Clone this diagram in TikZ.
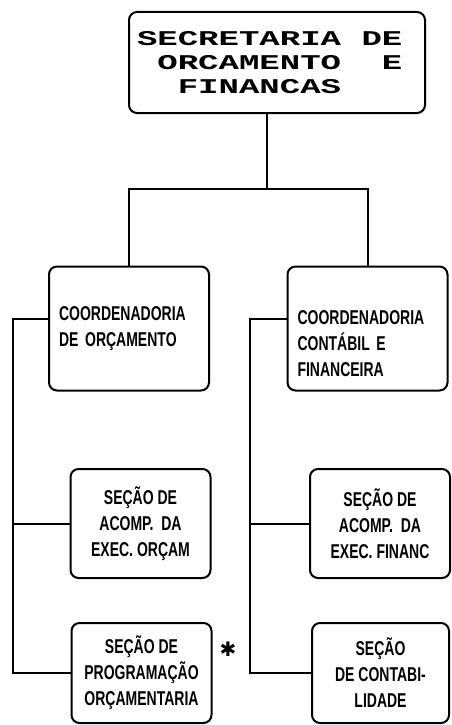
\documentclass[tikz,border=0pt]{standalone}
\usepackage{fontspec}
\newfontfamily\boxfont[FakeStretch=0.7]{Liberation Sans}
\newfontfamily\secfont[FakeStretch=1.62]{Liberation Mono}
\newfontfamily\symfont{DejaVu Sans}
\usetikzlibrary{positioning}

\begin{document}
\begin{tikzpicture}[x=1pt,y=-1pt,line width=2pt,
  orgbox/.style={rectangle,draw,rounded corners=8pt,minimum width=140pt,inner sep=2pt,align=center,font=\boxfont\bfseries\fontsize{20}{26}\selectfont},
  coordbox/.style={orgbox,minimum width=160pt,minimum height=124pt,text width=140pt,align=left},
  topbox/.style={orgbox,minimum width=296pt,minimum height=101pt,text width=280pt,align=left,font=\secfont\bfseries\fontsize{21}{24}\selectfont}]
  \useasboundingbox (0,0) rectangle (452,725);

  \node[topbox] (sec) at (277,62.5) {SECRETARIA\phantom{X}DE\\\phantom{X}ORCAMENTO\phantom{XX}E\\\phantom{XX}FINANCAS};
  \node[coordbox] (coordorc) at (129,328.5) {\strut\\COORDENADORIA\\DE ORÇAMENTO\\\strut};
  \node[coordbox] (coordfin) [right of=coordorc, node distance=238.5pt] {\strut\\COORDENADORIA\\CONTÁBIL E\\FINANCEIRA};
  \node[orgbox,minimum height=109pt] (acomporc) [below of=coordorc, node distance=195pt, xshift=11.5pt] {SEÇÃO DE\\ACOMP.\ \ DA\\EXEC. ORÇAM};
  \node[orgbox,minimum height=109pt] (acompfin) [right of=acomporc, node distance=239.5pt] {SEÇÃO DE\\ACOMP.\ \ DA\\EXEC. FINANC};
  \node[orgbox,minimum height=100pt] (progorc) [below of=acomporc, node distance=149.5pt, xshift=1pt] {SEÇÃO DE\\PROGRAMAÇÃO\\ORÇAMENTARIA};
  \node[orgbox,minimum height=100pt,minimum width=137pt] (contab) [right of=progorc, node distance=239pt] {SEÇÃO\\DE CONTABI-\\LIDADE};
  \node[font=\symfont\bfseries\fontsize{20}{20}\selectfont] (mark) [right of=progorc, node distance=86.5pt, yshift=24pt] {✱};

  \coordinate (bus) at (267,189);
  \coordinate (lspine) at (13,319);
  \coordinate (rspine) at (250,319);

  \draw (sec.south -| bus) -- (bus);
  \draw (coordorc.north) |- (bus) -| (coordfin.north);

  \draw (coordorc.west |- lspine) -- (lspine) |- (progorc.west);
  \draw (acomporc.west) -- (acomporc.west -| lspine);

  \draw (coordfin.west |- rspine) -- (rspine) |- (contab.west);
  \draw (acompfin.west) -- (acompfin.west -| rspine);
\end{tikzpicture}
\end{document}
